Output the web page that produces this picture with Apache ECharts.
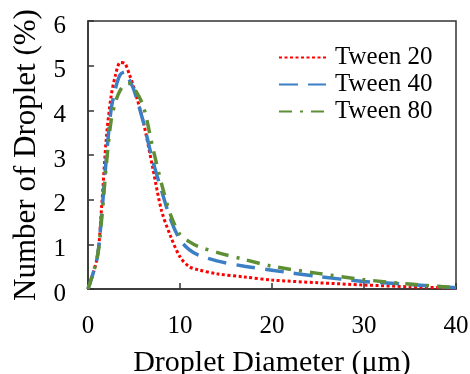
<!DOCTYPE html>
<html><head><meta charset="utf-8">
<script src="https://cdn.jsdelivr.net/npm/echarts@6/dist/echarts.min.js"></script>
<style>html,body{margin:0;padding:0;background:#fff}#c{width:470px;height:374px}</style>
</head><body><div id="c"></div>
<script>
const diameters = [0, 1, 1.5, 2, 2.5, 3, 3.5, 4, 4.5, 5, 6, 7, 8, 9, 10, 11, 12, 14, 17, 20, 25, 30, 35, 40];
const tween20 = [0, 0.7, 1.9, 3.4, 4.3, 4.8, 5.07, 5.05, 4.8, 4.5, 3.75, 2.75, 1.75, 1.17, 0.72, 0.5, 0.43, 0.34, 0.27, 0.2, 0.14, 0.09, 0.05, 0.02];
const tween40 = [0, 0.7, 1.7, 2.95, 4.0, 4.5, 4.8, 4.86, 4.68, 4.45, 3.75, 2.9, 2.2, 1.55, 1.1, 0.88, 0.76, 0.63, 0.51, 0.42, 0.28, 0.17, 0.1, 0.03];
const tween80 = [0, 0.7, 1.6, 2.8, 3.75, 4.2, 4.45, 4.58, 4.6, 4.5, 4.1, 3.2, 2.35, 1.65, 1.22, 1.06, 0.95, 0.82, 0.66, 0.51, 0.35, 0.21, 0.11, 0.03];
const seriesNames = ['Tween 20', 'Tween 40', 'Tween 80'];
const xTicks = [0, 10, 20, 30, 40];
const yTicks = [0, 1, 2, 3, 4, 5, 6];

const pair = (ys) => diameters.map((x, i) => [x, ys[i]]);
const font = '"Liberation Serif", "Times New Roman", serif';
const axisCol = '#333';

const chart = echarts.init(document.getElementById('c'));
chart.setOption({
  animation: false,
  textStyle: { fontFamily: font },
  grid: { left: 88, right: 14, top: 21, bottom: 85, show: true, borderColor: axisCol, borderWidth: 1.5,
          containLabel: false, outerBoundsMode: 'none' },
  legend: {
    left: 273, top: 40, orient: 'vertical', itemWidth: 47, itemHeight: 14, itemGap: 2,
    itemStyle: { opacity: 0 },
    textStyle: { fontFamily: font, fontSize: 25, color: '#000', padding: [0, 0, 0, 4] },
    data: seriesNames
  },
  xAxis: {
    type: 'value', min: xTicks[0], max: xTicks[xTicks.length - 1], interval: 10,
    name: 'Droplet Diameter (\u03bcm)', nameLocation: 'middle', nameGap: 59,
    nameTextStyle: { fontFamily: font, fontSize: 30, color: '#000' },
    axisLine: { lineStyle: { color: axisCol, width: 1.5 } },
    axisTick: { inside: true, length: 6, lineStyle: { color: axisCol, width: 1.5 } },
    axisLabel: { fontFamily: font, fontSize: 25, color: '#000', margin: 25 },
    splitLine: { show: false }
  },
  yAxis: {
    type: 'value', min: yTicks[0], max: yTicks[yTicks.length - 1], interval: 1,
    name: 'Number of Droplet (%)', nameLocation: 'middle', nameGap: 45,
    nameTextStyle: { fontFamily: font, fontSize: 31, color: '#000' },
    axisLine: { show: true, lineStyle: { color: axisCol, width: 1.5 } },
    axisTick: { show: true, inside: true, length: 6, lineStyle: { color: axisCol, width: 1.5 } },
    axisLabel: { fontFamily: font, fontSize: 25, color: '#000', margin: 22,
      formatter: '{a|{value}}',
      rich: { a: { fontFamily: font, fontSize: 25, color: '#000', padding: [10, 0, 0, 0] } } },
    splitLine: { show: false }
  },
  series: [
    { name: seriesNames[0], type: 'line', data: pair(tween20), smooth: 0.3, symbol: 'none',
      color: '#ff0000', lineStyle: { color: '#ff0000', width: 3, type: [3, 2.5] } },
    { name: seriesNames[1], type: 'line', data: pair(tween40), smooth: 0.3, symbol: 'none',
      color: '#3b7fc4', lineStyle: { color: '#3b7fc4', width: 3.5, type: [19, 10] } },
    { name: seriesNames[2], type: 'line', data: pair(tween80), smooth: 0.3, symbol: 'none',
      color: '#5f8f35', lineStyle: { color: '#5f8f35', width: 3.5, type: [13, 8, 3, 8] } }
  ]
});
</script></body></html>
